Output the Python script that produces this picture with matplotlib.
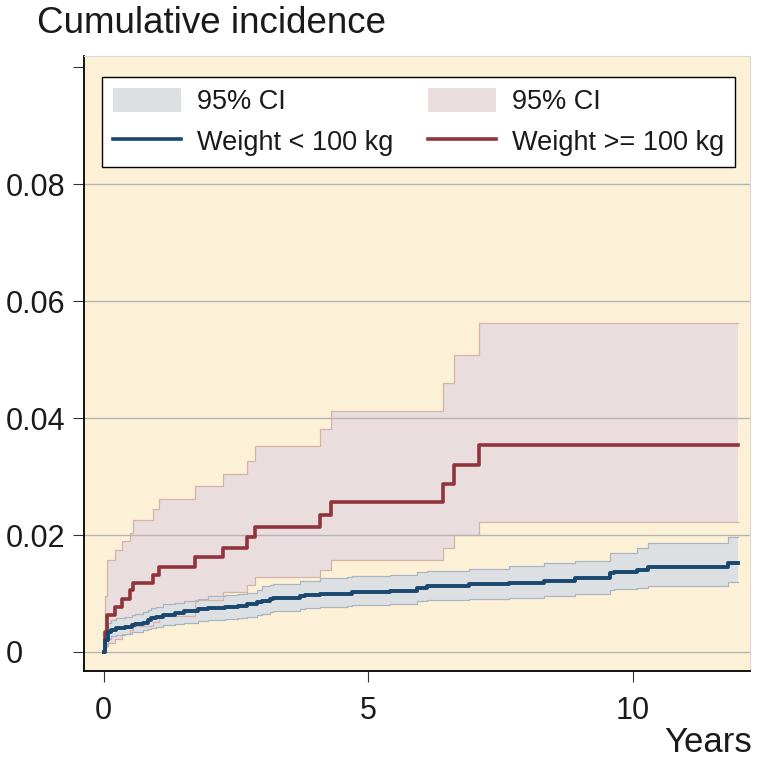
import numpy as np
import matplotlib
matplotlib.use("Agg")
import matplotlib.pyplot as plt
from matplotlib.patches import Patch
from matplotlib.lines import Line2D

plt.rcParams['font.family'] = ['Liberation Sans', 'DejaVu Sans']

# weight < 100 kg: step times (years), estimate and 95% CI
t_lo = [0, 0.02, 0.085, 0.15, 0.24, 0.40, 0.53, 0.59, 0.75, 0.84,
        0.90, 1.0, 1.12, 1.35, 1.53, 1.79, 1.98, 2.29, 2.54, 2.71,
        2.90, 2.99, 3.15, 3.21, 3.71, 3.81, 4.09, 4.60, 4.69, 5.42,
        5.92, 6.11, 6.90, 7.67, 8.33, 8.91, 9.57, 9.64, 10.09, 10.30,
        11.81, 12.0]
ci_est_lo = [0, 0.0021, 0.0035, 0.0038, 0.0041, 0.0043, 0.0046, 0.0048, 0.0050, 0.0055,
             0.0058, 0.0060, 0.0064, 0.0067, 0.0070, 0.0073, 0.0076, 0.0077, 0.0079, 0.0082,
             0.0085, 0.0088, 0.0090, 0.0093, 0.0095, 0.0097, 0.0099, 0.0100, 0.0102, 0.0104,
             0.0109, 0.0113, 0.0116, 0.0118, 0.0122, 0.0126, 0.01345, 0.0136, 0.0140, 0.0146,
             0.0153, 0.0153]
ci_lower_lo = [0, 0.0010, 0.0022, 0.0027, 0.0029, 0.0031, 0.0034, 0.0035, 0.0037, 0.0039,
               0.0041, 0.0043, 0.0046, 0.0048, 0.0050, 0.0053, 0.0055, 0.0057, 0.0058, 0.0060,
               0.0063, 0.0065, 0.0068, 0.0070, 0.0073, 0.0075, 0.0077, 0.0079, 0.0080, 0.0082,
               0.0087, 0.0089, 0.0091, 0.0093, 0.0096, 0.0099, 0.0106, 0.0107, 0.0109, 0.0113,
               0.0119, 0.0119]
ci_upper_lo = [0, 0.0035, 0.0050, 0.0055, 0.0058, 0.0060, 0.0063, 0.0065, 0.0069, 0.0072,
               0.0075, 0.0077, 0.0082, 0.0084, 0.0087, 0.0090, 0.0095, 0.0097, 0.0099, 0.0101,
               0.0106, 0.0112, 0.0114, 0.0117, 0.0121, 0.0122, 0.0126, 0.0128, 0.0130, 0.0132,
               0.0136, 0.0139, 0.0142, 0.0147, 0.0152, 0.0156, 0.0169, 0.0170, 0.0177, 0.0186,
               0.0196, 0.0196]

# weight >= 100 kg
t_hi = [0, 0.03, 0.06, 0.22, 0.34, 0.50, 0.56, 0.94, 1.04, 1.73,
        2.26, 2.71, 2.86, 4.09, 4.30, 6.41, 6.63, 7.10, 12.0]
ci_est_hi = [0, 0.0035, 0.0063, 0.0077, 0.0090, 0.0106, 0.01185, 0.0132, 0.01458, 0.0162,
             0.0177, 0.0196, 0.0214, 0.0234, 0.0257, 0.0288, 0.0320, 0.0354, 0.0354]
ci_lower_hi = [0, 0.0008, 0.0015, 0.0022, 0.0030, 0.0038, 0.0045, 0.0052, 0.0062, 0.0089,
               0.0103, 0.0115, 0.0128, 0.0141, 0.0158, 0.0177, 0.0200, 0.0222, 0.0222]
ci_upper_hi = [0, 0.0095, 0.0157, 0.0174, 0.0189, 0.0203, 0.0226, 0.0244, 0.0261, 0.0283,
               0.0304, 0.0327, 0.0352, 0.0382, 0.0412, 0.0460, 0.0508, 0.0562, 0.0562]

yticks = [0, 0.02, 0.04, 0.06, 0.08, 0.1]
ytick_labels = ['0', '0.02', '0.04', '0.06', '0.08', '']
xticks = [0, 5, 10]

navy = '#1a476f'
maroon = '#90353b'
bg = '#fcf1d6'

fig = plt.figure(figsize=(7.59, 7.60), dpi=100)
ax = fig.add_axes([84 / 759, 1 - 671 / 760, 666 / 759, 615 / 760])
ax.set_facecolor(bg)

for y in yticks[:-1]:
    ax.axhline(y, color='#b4b4b4', lw=1.0, zorder=1.5)

ax.fill_between(t_hi, ci_lower_hi, ci_upper_hi, step='post', facecolor='#e9dddd', edgecolor='none', zorder=1)
ax.fill_between(t_lo, ci_lower_lo, ci_upper_lo, step='post', facecolor='#dde0e3', edgecolor='none', zorder=1.2)
for s in (ci_lower_hi, ci_upper_hi):
    ax.step(t_hi, s, where='post', color='#d6b2ab', lw=0.9, zorder=1.3)
for s in (ci_lower_lo, ci_upper_lo):
    ax.step(t_lo, s, where='post', color='#a9b6c2', lw=0.9, zorder=1.4)

ax.step(t_hi, ci_est_hi, where='post', color=maroon, lw=2.6, zorder=3)
ax.step(t_lo, ci_est_lo, where='post', color=navy, lw=2.8, zorder=3)

ax.set_xlim(-0.369, 12.22)
ax.set_ylim(-0.00325, 0.1019)
ax.set_xticks(xticks)
ax.set_xticklabels([str(x) for x in xticks])
ax.set_yticks(yticks)
ax.set_yticklabels(ytick_labels)
ax.tick_params(axis='both', labelsize=22, length=8, width=0.8, color='#333333', labelcolor='#1a1a1a')
ax.tick_params(axis='x', pad=10)
ax.tick_params(axis='y', pad=48)
for lab in ax.get_yticklabels():
    lab.set_horizontalalignment('left')

for side in ('left', 'bottom'):
    ax.spines[side].set_color('black')
    ax.spines[side].set_linewidth(1.3)
for side in ('top', 'right'):
    ax.spines[side].set_color('#d8d8d8')
    ax.spines[side].set_linewidth(0.8)

handles = [Patch(facecolor='#dde0e3', edgecolor='none'),
           Line2D([], [], color=navy, lw=2.6),
           Patch(facecolor='#e9dddd', edgecolor='none'),
           Line2D([], [], color=maroon, lw=2.6)]
labels = ['95% CI', 'Weight < 100 kg', '95% CI', 'Weight >= 100 kg']
leg = ax.legend(handles, labels, ncol=2, loc='upper left',
                bbox_to_anchor=(102 / 759, 1 - 77 / 760), bbox_transform=fig.transFigure,
                fontsize=19.5, frameon=True, fancybox=False, borderaxespad=0,
                borderpad=0.4, handlelength=2.5, handleheight=1.0,
                handletextpad=0.6, columnspacing=1.3, labelspacing=0.5)
leg.get_frame().set_edgecolor('black')
leg.get_frame().set_linewidth(1.0)
leg.get_frame().set_facecolor('white')
leg.get_frame().set_alpha(1)
leg.set_zorder(5)
for txt in leg.get_texts():
    txt.set_color('#1a1a1a')

fig.text(37 / 759, 1 - 33 / 760, 'Cumulative incidence', fontsize=26.5,
         ha='left', va='baseline', color='#1a1a1a')
fig.text(752 / 759, 1 - 752 / 760, 'Years', fontsize=25,
         ha='right', va='baseline', color='#1a1a1a')

fig.savefig('out.png', dpi=100)
